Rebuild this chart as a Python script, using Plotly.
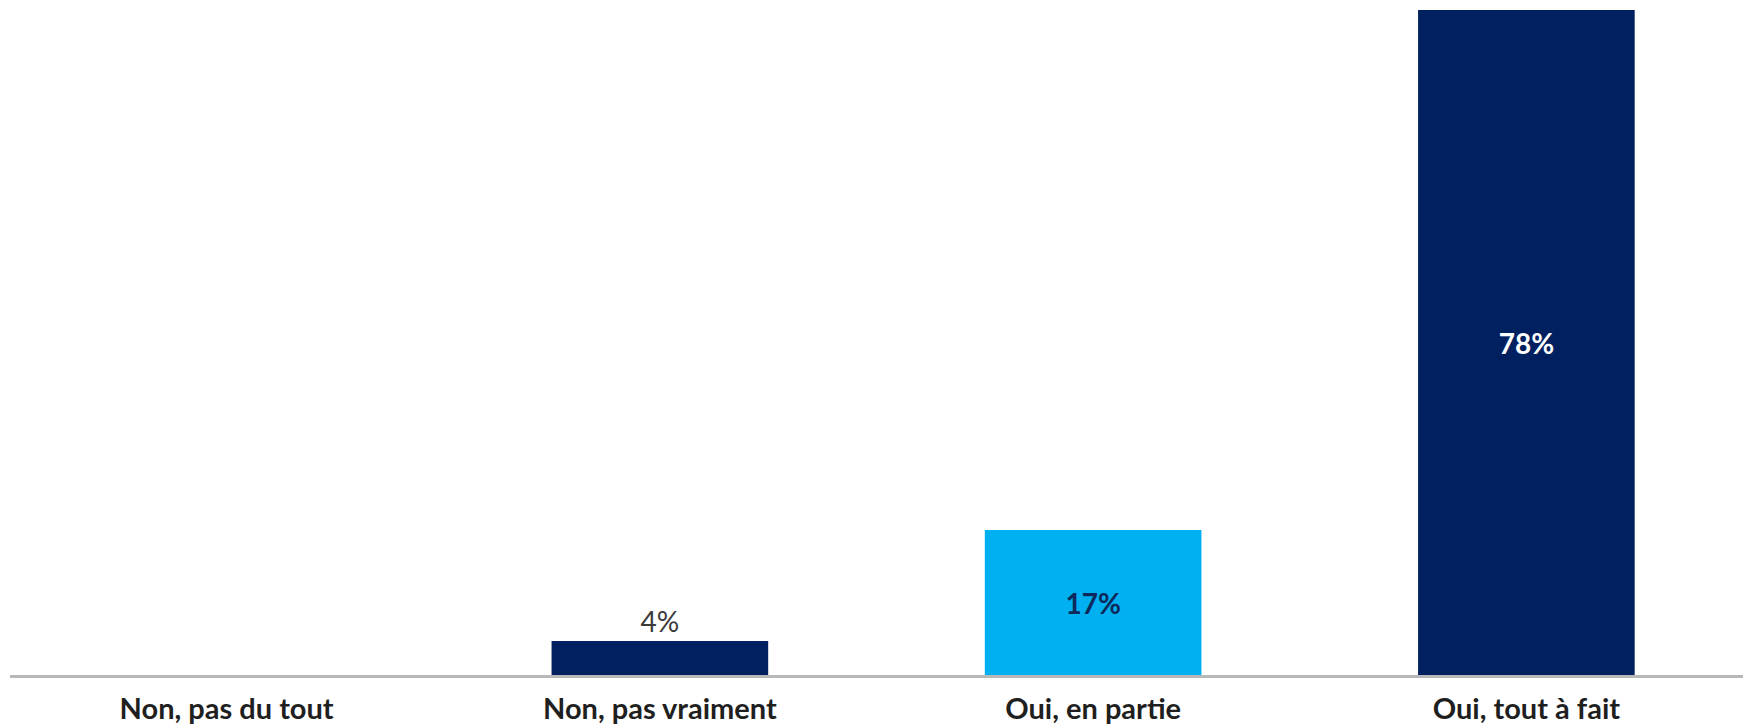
import plotly.graph_objects as go

categories = ["Non, pas du tout", "Non, pas vraiment", "Oui, en partie", "Oui, tout à fait"]
values = [0, 4, 17, 78]
labels = ["", "4%", "<b>17%</b>", "<b>78%</b>"]

bar_colors = ["#002060", "#002060", "#00B0F0", "#002060"]
text_colors = ["#3a3a3a", "#3a3a3a", "#0d2a5c", "#ffffff"]
text_positions = ["none", "outside", "inside", "inside"]

fig = go.Figure(go.Bar(
    x=categories,
    y=values,
    text=labels,
    textposition=text_positions,
    insidetextanchor="middle",
    textangle=0,
    textfont=dict(color=text_colors, size=28, family="Lato"),
    marker=dict(color=bar_colors, line=dict(width=0)),
    cliponaxis=False,
    hoverinfo="skip",
))

fig.update_layout(
    width=1748, height=725,
    margin=dict(l=10, r=5, t=10, b=50, autoexpand=False),
    paper_bgcolor="white", plot_bgcolor="white",
    bargap=0.5,
    showlegend=False,
    font=dict(family="Lato", color="#1f1f1f"),
    xaxis=dict(
        showline=True, linecolor="#b8b8b8", linewidth=3,
        showgrid=False, ticks="", ticklabelstandoff=6, automargin=False,
        tickfont=dict(size=29, family="Lato", color="#1f1f1f", weight="bold"),
    ),
    yaxis=dict(range=[0, 78], visible=False, showgrid=False, zeroline=False),
)

fig.write_html(
    "out.html",
    config={"displayModeBar": False},
    post_script="document.body.style.margin='0';document.body.style.overflow='hidden';",
)
